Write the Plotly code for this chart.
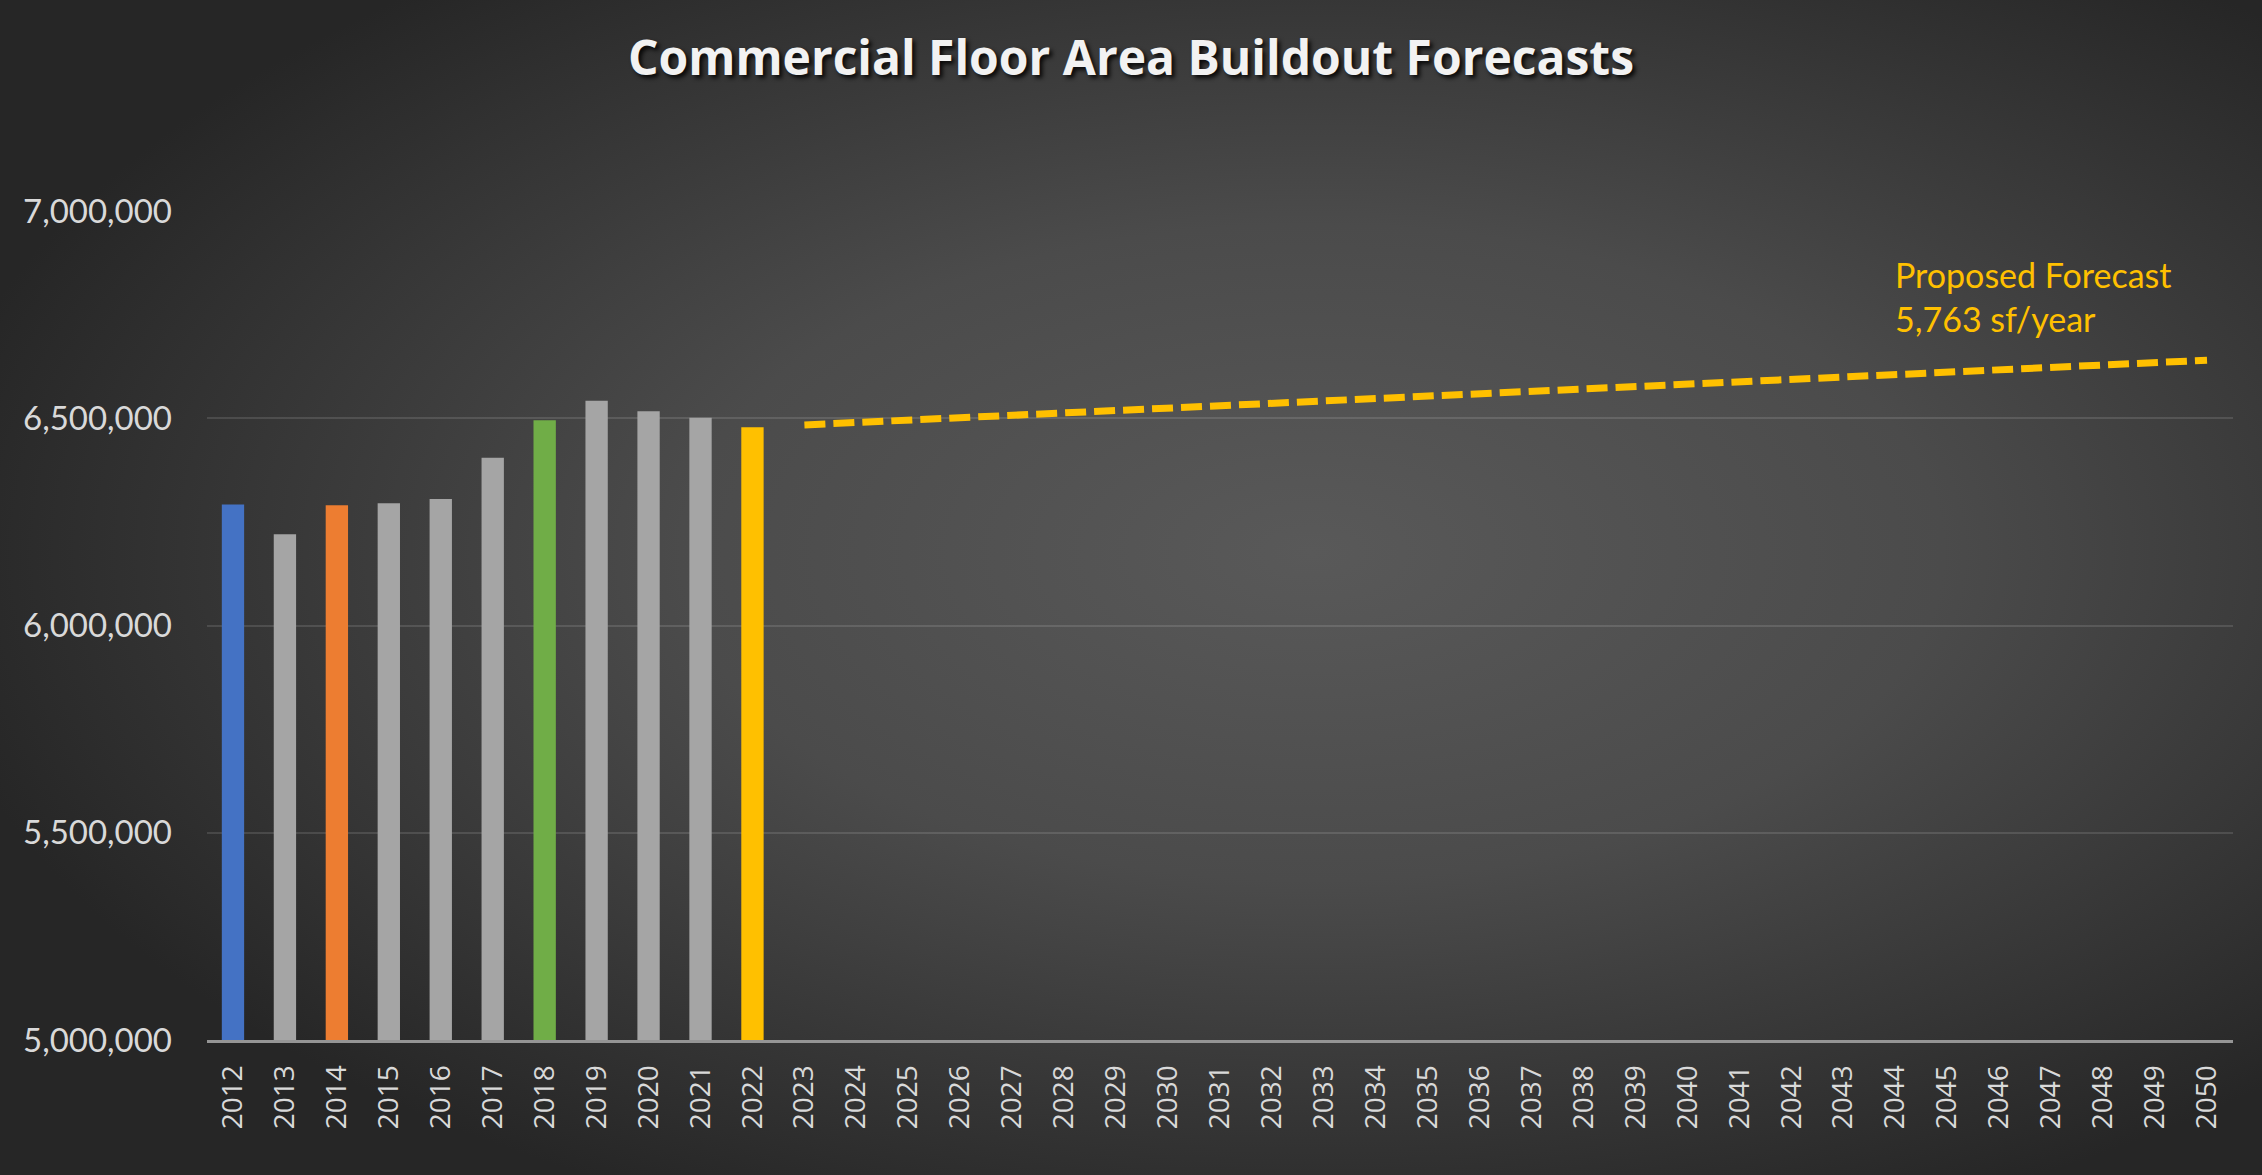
import base64
import plotly.graph_objects as go

# ---------------- data ----------------
years = ["2012", "2013", "2014", "2015", "2016", "2017", "2018", "2019", "2020", "2021",
         "2022", "2023", "2024", "2025", "2026", "2027", "2028", "2029", "2030", "2031",
         "2032", "2033", "2034", "2035", "2036", "2037", "2038", "2039", "2040", "2041",
         "2042", "2043", "2044", "2045", "2046", "2047", "2048", "2049", "2050"]

actual_years = ["2012", "2013", "2014", "2015", "2016", "2017", "2018", "2019", "2020", "2021", "2022"]
actual_values = [6292000, 6220000, 6290000, 6295000, 6305000, 6405000, 6495000, 6542000, 6517000, 6501000, 6478000]

forecast_years = ["2023", "2050"]
forecast_values = [6484000, 6640000]

title_text = "Commercial Floor Area Buildout Forecasts"
forecast_label = "Proposed Forecast<br>5,763 sf/year"

# ---------------- style ----------------
bar_colors = ["#4472C4", "#A5A5A5", "#ED7D31", "#A5A5A5", "#A5A5A5", "#A5A5A5",
              "#70AD47", "#A5A5A5", "#A5A5A5", "#A5A5A5", "#FFC000"]

W, H = 2262, 1175
L, R, T, B = 207, 29, 211, 135
pw, ph = W - L - R, H - T - B

svg = f'''<svg xmlns="http://www.w3.org/2000/svg" width="{W}" height="{H}" viewBox="0 0 {W} {H}" preserveAspectRatio="none">
<defs><radialGradient id="g" cx="0.58" cy="0.47" r="0.62" gradientUnits="objectBoundingBox">
<stop offset="0" stop-color="#595959"/><stop offset="0.45" stop-color="#4b4b4b"/><stop offset="1" stop-color="#262626"/>
</radialGradient></defs><rect width="{W}" height="{H}" fill="url(#g)"/></svg>'''
bg_uri = "data:image/svg+xml;base64," + base64.b64encode(svg.encode()).decode()

fig = go.Figure()

fig.add_trace(go.Bar(
    x=actual_years, y=actual_values,
    marker=dict(color=bar_colors, line=dict(width=0)),
    showlegend=False, hoverinfo="x+y",
))

fig.add_trace(go.Scatter(
    x=forecast_years, y=forecast_values, mode="lines",
    line=dict(color="#FFC000", width=7, dash="21px,8px"),
    showlegend=False,
))

fig.add_annotation(
    x=(1893 - L) / pw, y=(H - B - 296) / ph, xref="paper", yref="paper",
    text=forecast_label, showarrow=False, align="left",
    xanchor="left", yanchor="middle",
    font=dict(family="Lato", size=34, color="#FFC000"),
)

fig.update_layout(
    width=W, height=H,
    margin=dict(l=L, r=R, t=T, b=B, pad=0),
    paper_bgcolor="#333333",
    plot_bgcolor="rgba(0,0,0,0)",
    bargap=0.57,
    title=dict(
        text=title_text, x=0.5, xanchor="center", y=1 - 58 / H, yanchor="middle",
        xref="container", yref="container",
        font=dict(family="Open Sans", size=48, color="#F2F2F2", weight="bold",
                  shadow="3px 3px 4px rgba(0,0,0,0.85)"),
    ),
    images=[dict(
        source=bg_uri, xref="paper", yref="paper",
        x=-L / pw, y=1 + T / ph, sizex=W / pw, sizey=H / ph,
        xanchor="left", yanchor="top", sizing="stretch", layer="below",
    )],
    xaxis=dict(
        type="category", categoryorder="array", categoryarray=years,
        tickvals=years, ticktext=years,
        range=[-0.5, len(years) - 0.5],
        tickangle=-90, ticks="", ticklabelstandoff=11,
        tickfont=dict(family="Open Sans", size=28, color="#D9D9D9"),
        showgrid=False, showline=True, linecolor="#959595", linewidth=3,
        zeroline=False,
    ),
    yaxis=dict(
        range=[5000000, 7000000], dtick=500000, tick0=5000000,
        tickformat=",d", ticks="", ticklabelstandoff=34,
        tickfont=dict(family="Lato", size=33, color="#D9D9D9"),
        showgrid=True, gridcolor="rgba(255,255,255,0.12)", gridwidth=2,
        zeroline=False, showline=False,
    ),
)

fig.write_html(
    "out.html",
    config={"displayModeBar": False},
    post_script="document.body.style.margin='0';document.body.style.overflow='hidden';",
)
